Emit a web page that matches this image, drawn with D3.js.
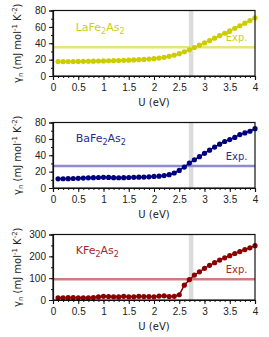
<!DOCTYPE html>
<html>
<head>
<meta charset="utf-8">
<script src="https://cdn.jsdelivr.net/npm/d3@7"></script>
<style>
  body { margin: 0; background: #fff; }
  svg { display: block; font-family: "DejaVu Sans", sans-serif; }
  .axis text { font-size: 10px; fill: #222; }
  .axis path, .axis line { stroke: #111; }
</style>
</head>
<body>
<svg width="269" height="337"></svg>
<script>
const uValues = [0.1, 0.2, 0.3, 0.4, 0.5, 0.6, 0.7, 0.8, 0.9, 1.0,
  1.1, 1.2, 1.3, 1.4, 1.5, 1.6, 1.7, 1.8, 1.9, 2.0,
  2.1, 2.2, 2.3, 2.4, 2.5, 2.6, 2.7, 2.8, 2.9, 3.0,
  3.1, 3.2, 3.3, 3.4, 3.5, 3.6, 3.7, 3.8, 3.9, 4.0];

const gammaLa = [17.6, 17.6, 17.7, 17.7, 17.8, 17.9, 18.0, 18.1, 18.3, 18.4,
  18.6, 18.7, 18.9, 19.1, 19.3, 19.6, 19.9, 20.2, 20.7, 21.2,
  21.9, 22.8, 24.0, 25.5, 27.3, 29.5, 32.0, 34.8, 37.6, 40.4,
  43.3, 46.2, 49.2, 52.2, 55.2, 58.3, 61.4, 64.5, 67.7, 71.0];

const gammaBa = [11.2, 11.3, 11.4, 11.6, 11.8, 12.1, 12.4, 12.6, 12.8, 13.0,
  12.9, 12.6, 12.5, 12.6, 12.8, 13.0, 13.2, 13.4, 13.7, 14.1,
  14.5, 15.2, 16.3, 18.3, 21.5, 25.5, 30.5, 34.5, 38.3, 42.3,
  46.2, 50.0, 53.5, 56.8, 59.2, 61.8, 65.2, 67.3, 69.3, 72.5];

const gammaK = [10, 10, 10.5, 10.5, 10, 10, 10, 11, 14, 17,
  16, 15, 14, 17, 15, 15, 17, 16, 16, 15,
  18, 19, 16, 17, 24, 68, 93, 114, 129, 145,
  159, 171, 183, 193, 203, 213, 222, 231, 239, 249];

const compounds = [
  { base: 'LaFe', sub1: '2', mid: 'As', sub2: '2' },
  { base: 'BaFe', sub1: '2', mid: 'As', sub2: '2' },
  { base: 'KFe', sub1: '2', mid: 'As', sub2: '2' }
];
const expValues = [35, 27, 95];
const yMaxes = [80, 80, 300];
const yTickSteps = [20, 20, 100];
const labelY = [55, 56, 210];
const bandRange = [2.69, 2.78];
const xTicks = [0, 0.5, 1, 1.5, 2, 2.5, 3, 3.5, 4];

const dotColors = ['#cccc00', '#000080', '#8b0000'];
const expColors = ['#e6e47a', '#8c8cd0', '#cf7c7c'];
const textColors = ['#cccc22', '#2a2a9a', '#a82828'];
const series = [gammaLa, gammaBa, gammaK];

const svg = d3.select('svg');
const left = 53, right = 255;
const tops = [10.5, 122.5, 234.5];
const plotH = 65.5;

const x = d3.scaleLinear().domain([0, 4]).range([left, right]);

series.forEach((vals, i) => {
  const top = tops[i], bottom = top + plotH;
  const y = d3.scaleLinear().domain([0, yMaxes[i]]).range([bottom, top]);
  const g = svg.append('g');

  // gray marker band
  g.append('rect')
    .attr('x', x(bandRange[0]))
    .attr('y', top)
    .attr('width', x(bandRange[1]) - x(bandRange[0]))
    .attr('height', plotH)
    .attr('fill', '#dcdcdc');

  // experimental value line
  g.append('line')
    .attr('x1', left).attr('x2', right)
    .attr('y1', y(expValues[i])).attr('y2', y(expValues[i]))
    .attr('stroke', expColors[i])
    .attr('stroke-width', 2.5);

  g.append('text')
    .attr('x', x(3.85))
    .attr('y', y(expValues[i]) - 6)
    .attr('text-anchor', 'end')
    .attr('font-size', 10)
    .attr('fill', textColors[i])
    .text('Exp.');

  // compound label
  const c = compounds[i];
  const t = g.append('text')
    .attr('x', x(0.45))
    .attr('y', y(labelY[i]))
    .attr('font-size', 11)
    .attr('fill', textColors[i]);
  t.append('tspan').text(c.base);
  t.append('tspan').attr('font-size', 8).attr('dy', 3).text(c.sub1);
  t.append('tspan').attr('dy', -3).text(c.mid);
  t.append('tspan').attr('font-size', 8).attr('dy', 3).text(c.sub2);

  // data
  const line = d3.line().x((d, j) => x(uValues[j])).y(d => y(d));
  g.append('path')
    .attr('d', line(vals))
    .attr('fill', 'none')
    .attr('stroke', dotColors[i])
    .attr('stroke-width', 1.5);

  g.selectAll('circle')
    .data(vals)
    .join('circle')
    .attr('cx', (d, j) => x(uValues[j]))
    .attr('cy', d => y(d))
    .attr('r', 2.6)
    .attr('fill', dotColors[i]);

  // frame (top, right)
  g.append('rect')
    .attr('x', left).attr('y', top)
    .attr('width', right - left).attr('height', plotH)
    .attr('fill', 'none')
    .attr('stroke', '#111')
    .attr('stroke-width', 1.2);

  // x axis
  const xAxis = g.append('g')
    .attr('class', 'axis')
    .attr('transform', `translate(0,${bottom})`)
    .call(d3.axisBottom(x).tickValues(xTicks).tickSize(4).tickPadding(4)
      .tickFormat(d => d3.format('')(d)));
  xAxis.select('.domain').attr('stroke-width', 1.2);

  g.append('g')
    .attr('transform', `translate(0,${bottom})`)
    .call(d3.axisBottom(x).ticks(40).tickSize(2).tickFormat(''))
    .call(s => s.select('.domain').remove())
    .selectAll('line').attr('stroke', '#111');

  // y axis
  const yAxis = g.append('g')
    .attr('class', 'axis')
    .attr('transform', `translate(${left},0)`)
    .call(d3.axisLeft(y).ticks(yMaxes[i] / yTickSteps[i]).tickSize(4).tickPadding(3));
  yAxis.select('.domain').attr('stroke-width', 1.2);

  g.append('g')
    .attr('transform', `translate(${left},0)`)
    .call(d3.axisLeft(y).ticks(yMaxes[i] / yTickSteps[i] * 2).tickSize(2).tickFormat(''))
    .call(s => s.select('.domain').remove())
    .selectAll('line').attr('stroke', '#111');

  // axis titles
  g.append('text')
    .attr('x', (left + right) / 2)
    .attr('y', bottom + 30)
    .attr('text-anchor', 'middle')
    .attr('font-size', 10)
    .attr('fill', '#222')
    .text('U (eV)');

  const yl = g.append('text')
    .attr('transform', `translate(21,${(top + bottom) / 2}) rotate(-90)`)
    .attr('text-anchor', 'middle')
    .attr('font-size', 10)
    .attr('fill', '#222');
  yl.append('tspan').text('γ');
  yl.append('tspan').attr('font-size', 7).attr('dy', 2).text('n');
  yl.append('tspan').attr('dy', -2).text(' (mJ mol');
  yl.append('tspan').attr('font-size', 7).attr('dy', -4).text('-1');
  yl.append('tspan').attr('dy', 4).text(' K');
  yl.append('tspan').attr('font-size', 7).attr('dy', -4).text('-2');
  yl.append('tspan').attr('dy', 4).text(')');
});
</script>
</body>
</html>
